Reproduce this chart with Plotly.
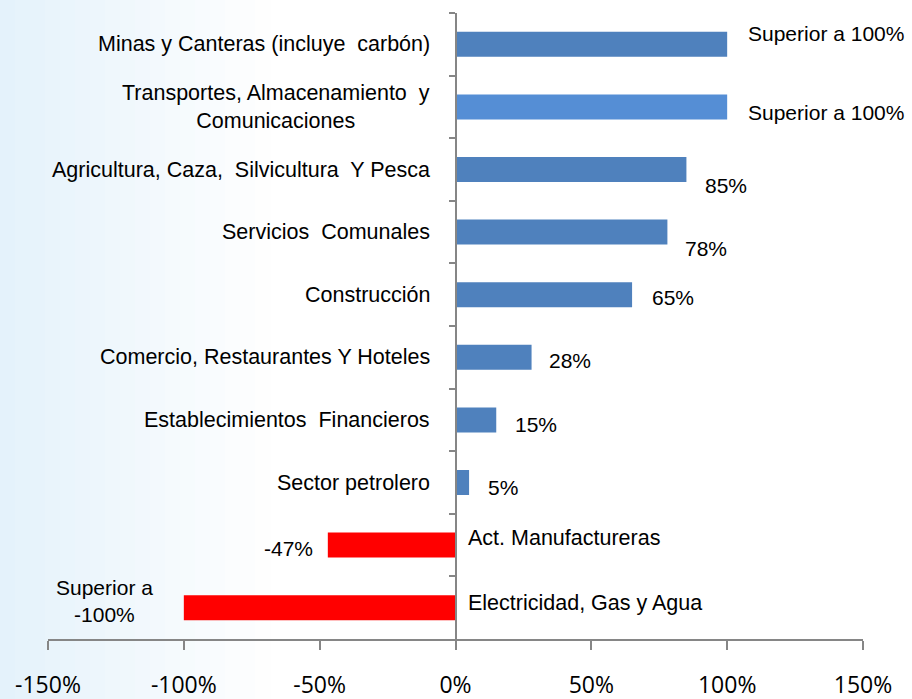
import plotly.graph_objects as go

categories = [
    "Minas y Canteras (incluye  carbón)",
    "Transportes, Almacenamiento  y<br>Comunicaciones",
    "Agricultura, Caza,  Silvicultura  Y Pesca",
    "Servicios  Comunales",
    "Construcción",
    "Comercio, Restaurantes Y Hoteles",
    "Establecimientos  Financieros",
    "Sector petrolero",
    "Act. Manufactureras",
    "Electricidad, Gas y Agua",
]
values = [100, 100, 85, 78, 65, 28, 15, 5, -47, -100]
value_labels = ["Superior a 100%", "Superior a 100%", "85%", "78%", "65%",
                "28%", "15%", "5%", "-47%", "Superior a<br>-100%"]
bar_colors = ["#4F81BD", "#558ED5", "#4F81BD", "#4F81BD", "#4F81BD",
              "#4F81BD", "#4F81BD", "#4F81BD", "#FF0000", "#FF0000"]
x_ticks = [-150, -100, -50, 0, 50, 100, 150]
x_tick_labels = ["-150%", "-100%", "-50%", "0%", "50%", "100%", "150%"]

# label offsets (pixels) relative to bar end
label_dx = [19, 19, 17, 16, 18, 15, 17, 17, -13, -29]
label_dy = [11, -6, -16, -16, -3, -3, -5, -5, -3, 7]
cat_dy_neg = {8: 7, 9: 5}

FONT = "Liberation Sans Narrow, Arial Narrow, Liberation Sans, Arial, sans-serif"
FS = 21.5

y_idx = list(range(len(categories)))

fig = go.Figure()
fig.add_trace(go.Bar(
    x=values, y=y_idx, orientation="h",
    marker=dict(color=bar_colors, line=dict(width=0)),
    width=0.4, hoverinfo="skip",
))

annotations = []
for i, (cat, v, lab) in enumerate(zip(categories, values, value_labels)):
    annotations.append(dict(
        x=v, y=i, xref="x", yref="y", text=lab, showarrow=False,
        xanchor="left" if v >= 0 else "right", align="center",
        xshift=label_dx[i], yshift=label_dy[i],
        font=dict(family=FONT, size=21, color="#000000"),
    ))
    if v >= 0:
        annotations.append(dict(
            x=0, y=i, xref="x", yref="y", text=cat, showarrow=False,
            xanchor="right", align="center", xshift=-24, yshift=0,
            font=dict(family=FONT, size=FS, color="#000000"),
        ))
    else:
        annotations.append(dict(
            x=0, y=i, xref="x", yref="y", text=cat, showarrow=False,
            xanchor="left", align="left", xshift=10, yshift=cat_dy_neg[i],
            font=dict(family=FONT, size=FS, color="#000000"),
        ))

# soft blue gradient on the left edge
shapes = []
n = 18
for k in range(n):
    x0 = k / n * 270
    x1 = (k + 1) / n * 270
    t = 1 - (k + 0.5) / n
    r = int(255 - (255 - 228) * t)
    g = int(255 - (255 - 242) * t)
    b = int(255 - (255 - 251) * t)
    shapes.append(dict(
        type="rect", xref="paper", yref="paper",
        x0=(x0 - 48) / 815, x1=(x1 - 48) / 815 + 0.001,
        y0=-70 / 626, y1=1 + 20 / 626,
        fillcolor=f"rgb({r},{g},{b})", line=dict(width=0), layer="below",
    ))

fig.update_layout(
    width=912, height=699,
    margin=dict(l=48, r=49, t=13, b=60, autoexpand=False),
    paper_bgcolor="white", plot_bgcolor="rgba(0,0,0,0)",
    showlegend=False,
    annotations=annotations,
    shapes=shapes,
    xaxis=dict(
        range=[-150, 150], tickvals=x_ticks, ticktext=x_tick_labels,
        showgrid=False, zeroline=False,
        showline=True, linecolor="#868686", linewidth=2,
        ticks="outside", ticklen=9, tickwidth=2, tickcolor="#868686",
        tickfont=dict(family="Open Sans, sans-serif", size=23, color="#000000"),
        ticklabelstandoff=15, automargin=False,
        fixedrange=True,
    ),
    yaxis=dict(
        range=[len(categories) - 0.5, -0.5],
        tickvals=[i + 0.5 for i in range(-1, len(categories) - 1)],
        showticklabels=False,
        showgrid=False, zeroline=False,
        showline=True, linecolor="#868686", linewidth=2,
        ticks="outside", ticklen=6, tickwidth=2, tickcolor="#868686",
        anchor="free", position=0.5, automargin=False,
        fixedrange=True,
    ),
)

fig.write_html("out.html")
